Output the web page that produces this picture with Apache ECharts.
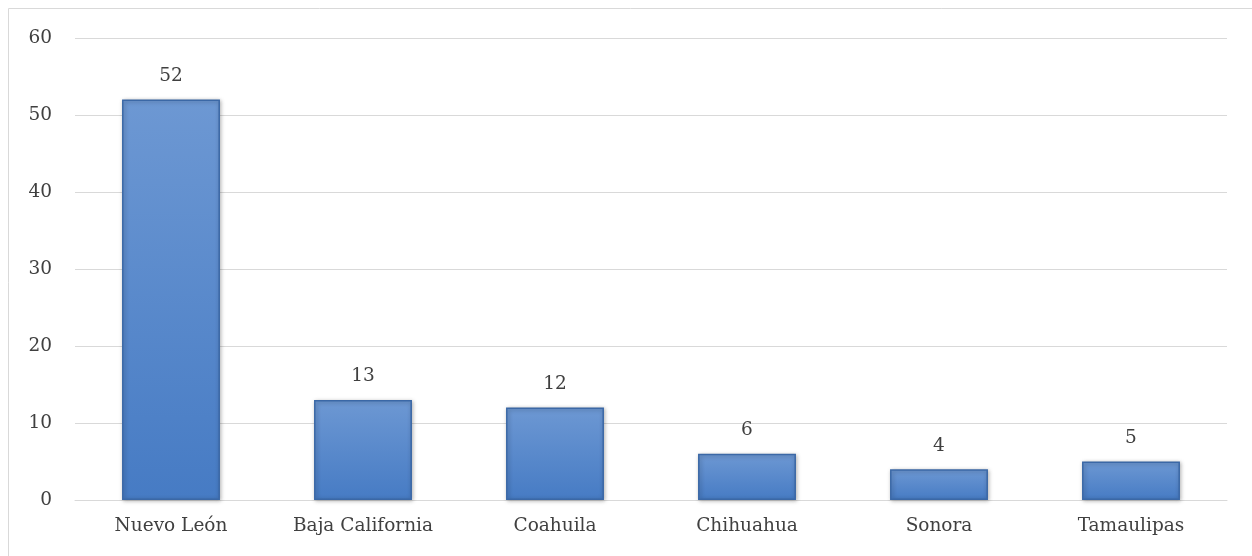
<!DOCTYPE html>
<html><head><meta charset="utf-8">
<script src="https://cdn.jsdelivr.net/npm/echarts@6/dist/echarts.min.js"></script>
<style>html,body{margin:0;padding:0;background:#fff}#c{width:1252px;height:556px}</style>
</head><body><div id="c"></div>
<script>
const categories = ["Nuevo León","Baja California","Coahuila","Chihuahua","Sonora","Tamaulipas"];
const values = [52,13,12,6,4,5];
const chart = echarts.init(document.getElementById('c'));
const font = "'DejaVu Serif', 'Liberation Serif', serif";
chart.setOption({
  animation:false,
  graphic:[{type:'rect',shape:{x:8.5,y:8.5,width:1300,height:600},style:{fill:'none',stroke:'#d9d9d9',lineWidth:1},silent:true}],
  grid:{left:75,right:25,top:38,bottom:56,containLabel:false},
  xAxis:{type:'category',data:categories,axisTick:{show:false},axisLine:{lineStyle:{color:'#d9d9d9'}},
    axisLabel:{color:'#404040',fontFamily:font,fontSize:18.5,margin:17}},
  yAxis:{type:'value',min:0,max:60,interval:10,axisLine:{show:false},axisTick:{show:false},
    splitLine:{lineStyle:{color:'#d9d9d9'}},
    axisLabel:{color:'#404040',fontFamily:font,fontSize:18.5,margin:23}},
  series:[{type:'bar',data:values,barWidth:'51%',
    itemStyle:{color:new echarts.graphic.LinearGradient(0,0,0,1,[
      {offset:0,color:'#6d98d3'},{offset:1,color:'#467bc4'}]),
      borderColor:'#3b68a6',borderWidth:1.5,shadowColor:'rgba(0,0,0,0.3)',shadowBlur:4,shadowOffsetX:1,shadowOffsetY:1},
    label:{show:true,position:'top',distance:14,color:'#404040',fontFamily:font,fontSize:18.5}}]
});
</script></body></html>
